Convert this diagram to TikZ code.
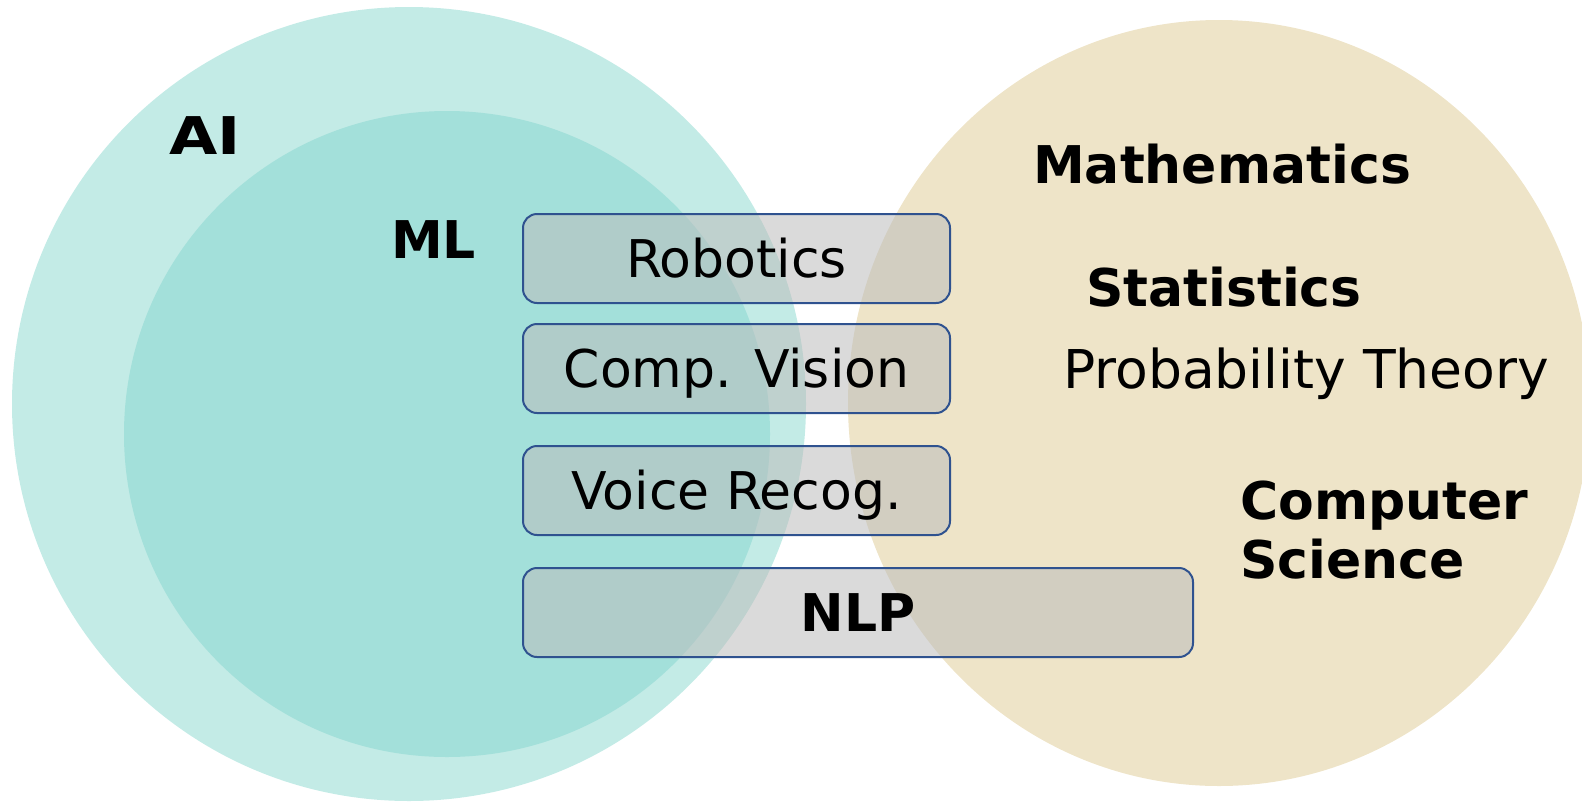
\documentclass[tikz,border=0pt]{standalone}
\usepackage{fontspec}
\usepackage{graphicx}
\setmainfont{DejaVu Sans}
\definecolor{aicol}{RGB}{195,235,230}
\definecolor{mlcol}{RGB}{163,224,218}
\definecolor{tancol}{RGB}{238,228,200}
\definecolor{boxgray}{RGB}{188,188,188}
\definecolor{boxblue}{RGB}{47,82,143}
\begin{document}
\begin{tikzpicture}[x=1pt,y=-1pt,
  bigfont/.style={font=\fontsize{52}{60}\selectfont},
  lbl/.style={bigfont, anchor=base west, inner sep=0pt},
  boldlbl/.style={lbl, font=\fontsize{52}{60}\selectfont\bfseries},
  box/.style={draw=boxblue, line width=2pt, rounded corners=14pt,
    fill=boxgray, fill opacity=0.55, text opacity=1,
    inner sep=0pt, text height=38pt, text depth=0pt,
    minimum height=89pt, bigfont},
]
\useasboundingbox (0,0) rectangle (1582,801);
% circles
\fill[aicol] (409,404) circle[radius=397pt];
\fill[mlcol] (447,434) circle[radius=323pt];
\fill[tancol] (1219,403) ellipse[x radius=371pt, y radius=383pt];
% labels
\node[boldlbl] (ai) at (169,154) {\scalebox{1.2}[1]{AI}};
\node[boldlbl] (ml) at (391,258) {ML};
\node[boldlbl] (math) at (1033,183) {Mathematics};
\node[boldlbl] (stat) at (1086,306) {Statistics};
\node[lbl, font=\fontsize{53.5}{60}\selectfont] (prob) at (1063,388) {Probability Theory};
\node[boldlbl] (cs1) at (1240,519) {Computer};
\node[boldlbl] (cs2) at (1240,578) {Science};
% boxes
\node[box, minimum width=427pt] (rob) at (736.5,258.5) {Robotics};
\node[box, minimum width=427pt] (cv) at (736.5,368.5) {Comp. Vision};
\node[box, minimum width=427pt] (vr) at (736.5,490.5) {Voice Recog.};
\node[box, minimum width=670pt, font=\fontsize{52}{60}\selectfont\bfseries] (nlp) at (858,612.5) {NLP};
\end{tikzpicture}
\end{document}
